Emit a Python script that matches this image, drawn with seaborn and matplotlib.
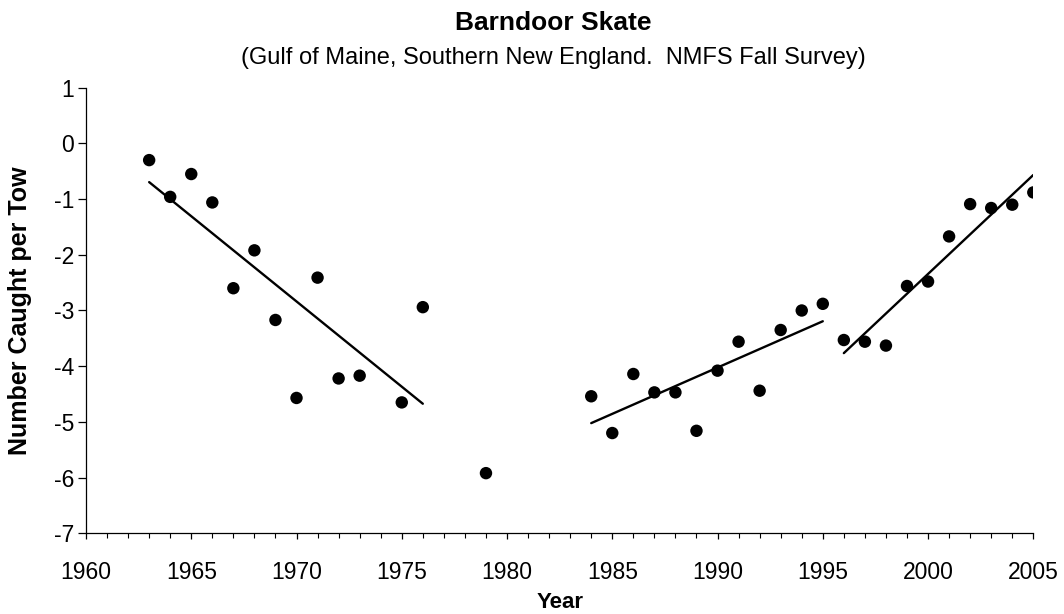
import matplotlib
matplotlib.use("Agg")
import matplotlib.pyplot as plt
from matplotlib.ticker import MultipleLocator
import numpy as np
import pandas as pd
import seaborn as sns

# Survey index by year
years = [1963, 1964, 1965, 1966, 1967, 1968, 1969, 1970, 1971, 1972, 1973,
         1975, 1976, 1979,
         1984, 1985, 1986, 1987, 1988, 1989, 1990, 1991, 1992, 1993, 1994, 1995,
         1996, 1997, 1998, 1999, 2000, 2001, 2002, 2003, 2004, 2005]
values = [-0.30, -0.96, -0.55, -1.06, -2.60, -1.92, -3.17, -4.57, -2.41, -4.22, -4.17,
          -4.65, -2.94, -5.92,
          -4.54, -5.20, -4.14, -4.47, -4.47, -5.16, -4.08, -3.56, -4.44, -3.35, -3.00, -2.88,
          -3.53, -3.56, -3.63, -2.56, -2.48, -1.67, -1.09, -1.16, -1.10, -0.88]

# Periods with their own linear trend
trend_periods = [(1963, 1976), (1984, 1995), (1996, 2005)]

title = "Barndoor Skate"
subtitle = "(Gulf of Maine, Southern New England.  NMFS Fall Survey)"
x_label = "Year"
y_label = "Number Caught per Tow"

df = pd.DataFrame({"year": years, "value": values})

sns.set_theme(style="ticks")
plt.rcParams["font.family"] = ["Liberation Sans", "DejaVu Sans"]
plt.rcParams["axes.unicode_minus"] = False

fig = plt.figure(figsize=(10.64, 6.14), dpi=100)
ax = fig.add_axes([86 / 1064, 1 - 533.3 / 614, 947.3 / 1064, 445.6 / 614])

sns.scatterplot(data=df, x="year", y="value", ax=ax, color="black",
                s=80, edgecolor="none", zorder=3)

for start, end in trend_periods:
    seg = df[(df["year"] >= start) & (df["year"] <= end)]
    sns.regplot(data=seg, x="year", y="value", ax=ax, scatter=False, ci=None,
                truncate=True, line_kws={"color": "black", "linewidth": 1.7})

ax.set_xlim(1960, 2005)
ax.set_ylim(-7, 1)
ax.xaxis.set_major_locator(MultipleLocator(5))
ax.xaxis.set_minor_locator(MultipleLocator(1))
ax.yaxis.set_major_locator(MultipleLocator(1))

for side in ("top", "right"):
    ax.spines[side].set_visible(False)
for side in ("left", "bottom"):
    ax.spines[side].set_color("black")
    ax.spines[side].set_linewidth(0.9)

ax.tick_params(axis="x", which="major", direction="out", length=4.3, width=0.9,
               color="black", labelsize=16.5, pad=16.0, labelcolor="black")
ax.tick_params(axis="x", which="minor", direction="out", length=3.6, width=0.8,
               color="black")
ax.tick_params(axis="y", which="major", direction="out", length=5.5, width=0.9,
               color="black", labelsize=16.5, pad=3.0, labelcolor="black")

ax.set_xlabel(x_label, fontsize=16, fontweight="bold", color="black")
ax.set_ylabel(y_label, fontsize=18, fontweight="bold", color="black")
ax.xaxis.set_label_coords(0.5, -0.131)
ax.yaxis.set_label_coords(-0.057, 0.5)

fig.text(0.520, 1 - 30 / 614, title, ha="center", va="baseline",
         fontsize=19, fontweight="bold", color="black")
fig.text(0.520, 1 - 64 / 614, subtitle, ha="center", va="baseline",
         fontsize=17, color="black")

fig.savefig("out.png", dpi=100, facecolor="white")
